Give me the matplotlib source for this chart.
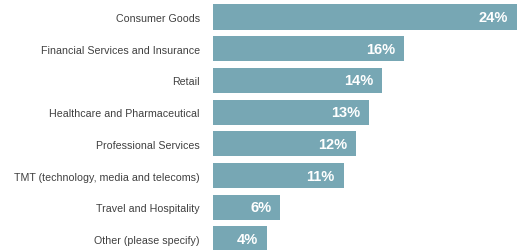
import matplotlib
matplotlib.use("Agg")
import matplotlib.pyplot as plt

# Data (bar lengths estimated from pixels)
sectors = [
    "Consumer Goods",
    "Financial Services and Insurance",
    "Retail",
    "Healthcare and Pharmaceutical",
    "Professional Services",
    "TMT (technology, media and telecoms)",
    "Travel and Hospitality",
    "Other (please specify)",
]
shares = [25.3, 15.9, 14.1, 13.0, 11.9, 10.9, 5.6, 4.5]
share_labels = ["24%", "16%", "14%", "13%", "12%", "11%", "6%", "4%"]

plt.rcParams['font.family'] = ['Liberation Sans', 'DejaVu Sans']

fig = plt.figure(figsize=(5.19, 2.51), dpi=100)
ax = fig.add_axes([213 / 519, 0, 306 / 519, 1])

pos = list(range(len(sectors)))
ax.barh(pos, shares, height=0.79, color='#77a7b4')

# Value labels inside bar ends
for p, v, lab in zip(pos, shares, share_labels):
    ax.annotate(lab, (v, p), xytext=(-6.5, 0), textcoords='offset points',
                ha='right', va='center', color='white',
                fontsize=10.5, fontweight='bold')

ax.set_xlim(0, 306 / 12)
ax.set_ylim(7.35, -0.568)
ax.set_yticks(pos)
ax.set_yticklabels(sectors, fontsize=7.65, color='#404040')
ax.tick_params(axis='y', length=0, pad=9.5)
ax.set_xticks([])
for s in ax.spines.values():
    s.set_visible(False)

fig.savefig("out.png", dpi=100)
